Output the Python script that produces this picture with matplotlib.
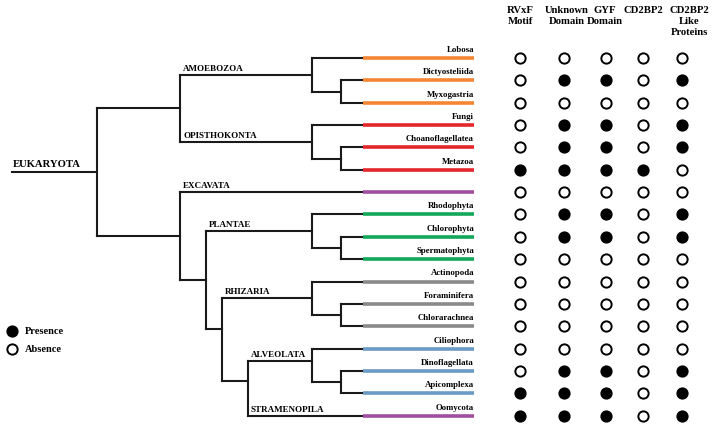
#!/usr/bin/python
# -*- encoding: UTF-8 -*-
'''Eukaryote tree with presence / absence matrix of CD2BP2 features'''

import matplotlib
matplotlib.use('Agg')
import matplotlib.pyplot as plt

#==============================================================================
# data
taxa = ['Lobosa', 'Dictyosteliida', 'Myxogastria', 'Fungi', 'Choanoflagellatea',
        'Metazoa', '', 'Rhodophyta', 'Chlorophyta', 'Spermatophyta',
        'Actinopoda', 'Foraminifera', 'Chlorarachnea', 'Ciliophora',
        'Dinoflagellata', 'Apicomplexa', 'Oomycota']
groups = ['AMOEBOZOA']*3 + ['OPISTHOKONTA']*3 + ['EXCAVATA'] + ['PLANTAE']*3 \
    + ['RHIZARIA']*3 + ['ALVEOLATA']*3 + ['STRAMENOPILA']
features = ['RVxF\nMotif', 'Unknown\nDomain', 'GYF\nDomain', 'CD2BP2',
            'CD2BP2\nLike\nProteins']
presence = [
    [0, 0, 0, 0, 0],
    [0, 1, 1, 0, 1],
    [0, 0, 0, 0, 0],
    [0, 1, 1, 0, 1],
    [0, 1, 1, 0, 1],
    [1, 1, 1, 1, 0],
    [0, 0, 0, 0, 0],
    [0, 1, 1, 0, 1],
    [0, 1, 1, 0, 1],
    [0, 0, 0, 0, 0],
    [0, 0, 0, 0, 0],
    [0, 0, 0, 0, 0],
    [0, 0, 0, 0, 0],
    [0, 0, 0, 0, 0],
    [0, 1, 1, 0, 1],
    [1, 1, 1, 0, 1],
    [1, 1, 1, 0, 1],
]
legend_labels = ['Presence', 'Absence']

# tree topology: (label, children); leaves are indices into taxa
tree = ('EUKARYOTA', [
    ('', [
        ('AMOEBOZOA', [0, ('', [1, 2])]),
        ('OPISTHOKONTA', [3, ('', [4, 5])]),
    ]),
    ('', [
        ('EXCAVATA', 6),
        ('', [
            ('PLANTAE', [7, ('', [8, 9])]),
            ('', [
                ('RHIZARIA', [10, ('', [11, 12])]),
                ('', [
                    ('ALVEOLATA', [13, ('', [14, 15])]),
                    ('STRAMENOPILA', 16),
                ]),
            ]),
        ]),
    ]),
])

#==============================================================================
# layout (pixel space)
W, H = 716, 427
Y0, DY = 59, 22.35
LEAF_X0, LEAF_X1 = 363, 474
COL_X = [520, 564, 606, 643, 682]
HEAD_X = [520, 567, 605, 643, 689]
clade_colors = {
    'AMOEBOZOA': '#F58634', 'OPISTHOKONTA': '#E3262B', 'EXCAVATA': '#A24E9E',
    'PLANTAE': '#12A85A', 'RHIZARIA': '#8A8A8A', 'ALVEOLATA': '#6B9AC4',
    'STRAMENOPILA': '#A24E9E',
}
# x of vertical bar by depth
DEPTH_X = {0: 97, 1: 180, 2: 206, 3: 222, 4: 248}
CLADE_X = 312
SUB_X = 341
# small offsets (px) where the published tree is not centred
NUDGE = {'ALVEOLATA': -4}
DEPTH_NUDGE = {3: -11, 4: -7}

SERIF = ['Liberation Serif', 'DejaVu Serif']
BLACK_LW = 1.5

fig = plt.figure(figsize=(W/100., H/100.), dpi=100)
ax = fig.add_axes([0, 0, 1, 1])
ax.set_xlim(0, W)
ax.set_ylim(H, 0)
ax.axis('off')

def leaf_y(i):
    return Y0 + DY*i

def line(xs, ys):
    ax.plot(xs, ys, color='#1a1a1a', lw=BLACK_LW, solid_capstyle='projecting')

def draw_leaf(i, color):
    y = leaf_y(i)
    ax.plot([LEAF_X0, LEAF_X1], [y, y], color=color, lw=2.6,
            solid_capstyle='butt', zorder=3)
    if taxa[i]:
        ax.text(LEAF_X1, y - 9, taxa[i], ha='right', va='center',
                fontsize=6.3, fontweight='bold', family=SERIF)

def draw_clade(node):
    '''draw a named clade right of CLADE_X; returns (x, y) of its entry'''
    label, kids = node
    color = clade_colors[label]
    if isinstance(kids, int):
        draw_leaf(kids, color)
        return LEAF_X0, leaf_y(kids)
    ys = []
    for k in kids:
        if isinstance(k, int):
            draw_leaf(k, color)
            ys.append(leaf_y(k))
            line([CLADE_X, LEAF_X0], [ys[-1]]*2)
        else:
            sub = [leaf_y(j) for j in k[1]]
            for j, yy in zip(k[1], sub):
                draw_leaf(j, color)
                line([SUB_X, LEAF_X0], [yy, yy])
            line([SUB_X, SUB_X], [min(sub), max(sub)])
            ys.append(sum(sub)/len(sub))
            line([CLADE_X, SUB_X], [ys[-1]]*2)
    line([CLADE_X, CLADE_X], [min(ys), max(ys)])
    return CLADE_X, sum(ys)/len(ys) + NUDGE.get(label, 0)

def draw_node(node, depth):
    '''returns y where the parent branch meets this node'''
    label, kids = node
    x = DEPTH_X[depth]
    ys = []
    for k in kids:
        if k[0]:
            cx, cy = draw_clade(k)
            line([x, cx], [cy, cy])
            ax.text(x + 3, cy - 7, k[0], ha='left', va='center',
                    fontsize=6.5, fontweight='bold', family=SERIF)
        else:
            nx = DEPTH_X[depth + 1]
            cy = draw_node(k, depth + 1)
            line([x, nx], [cy, cy])
        ys.append(cy)
    line([x, x], [min(ys), max(ys)])
    return (min(ys) + max(ys))/2. + DEPTH_NUDGE.get(depth, 0)

root_y = draw_node(tree, 0)
line([12, DEPTH_X[0]], [root_y, root_y])
ax.text(13, root_y - 9, tree[0], ha='left', va='center', fontsize=7.7,
        fontweight='bold', family=SERIF)

# presence / absence matrix
for i, row in enumerate(presence):
    for j, v in enumerate(row):
        ax.plot(COL_X[j], leaf_y(i), 'o', ms=7.4, mew=1.4, mec='black',
                mfc='black' if v else 'white')

for j, f in enumerate(features):
    ax.text(HEAD_X[j], 6, f, ha='center', va='top', fontsize=7.7,
            fontweight='bold', family=SERIF, linespacing=1.3)

# legend
for k, lab in enumerate(legend_labels):
    y = 332 + 18*k
    ax.plot(12, y, 'o', ms=7.4, mew=1.4, mec='black',
            mfc='black' if k == 0 else 'white')
    ax.text(25, y, lab, ha='left', va='center', fontsize=7.5,
            fontweight='bold', family=SERIF)

fig.savefig('out.png', dpi=100)
